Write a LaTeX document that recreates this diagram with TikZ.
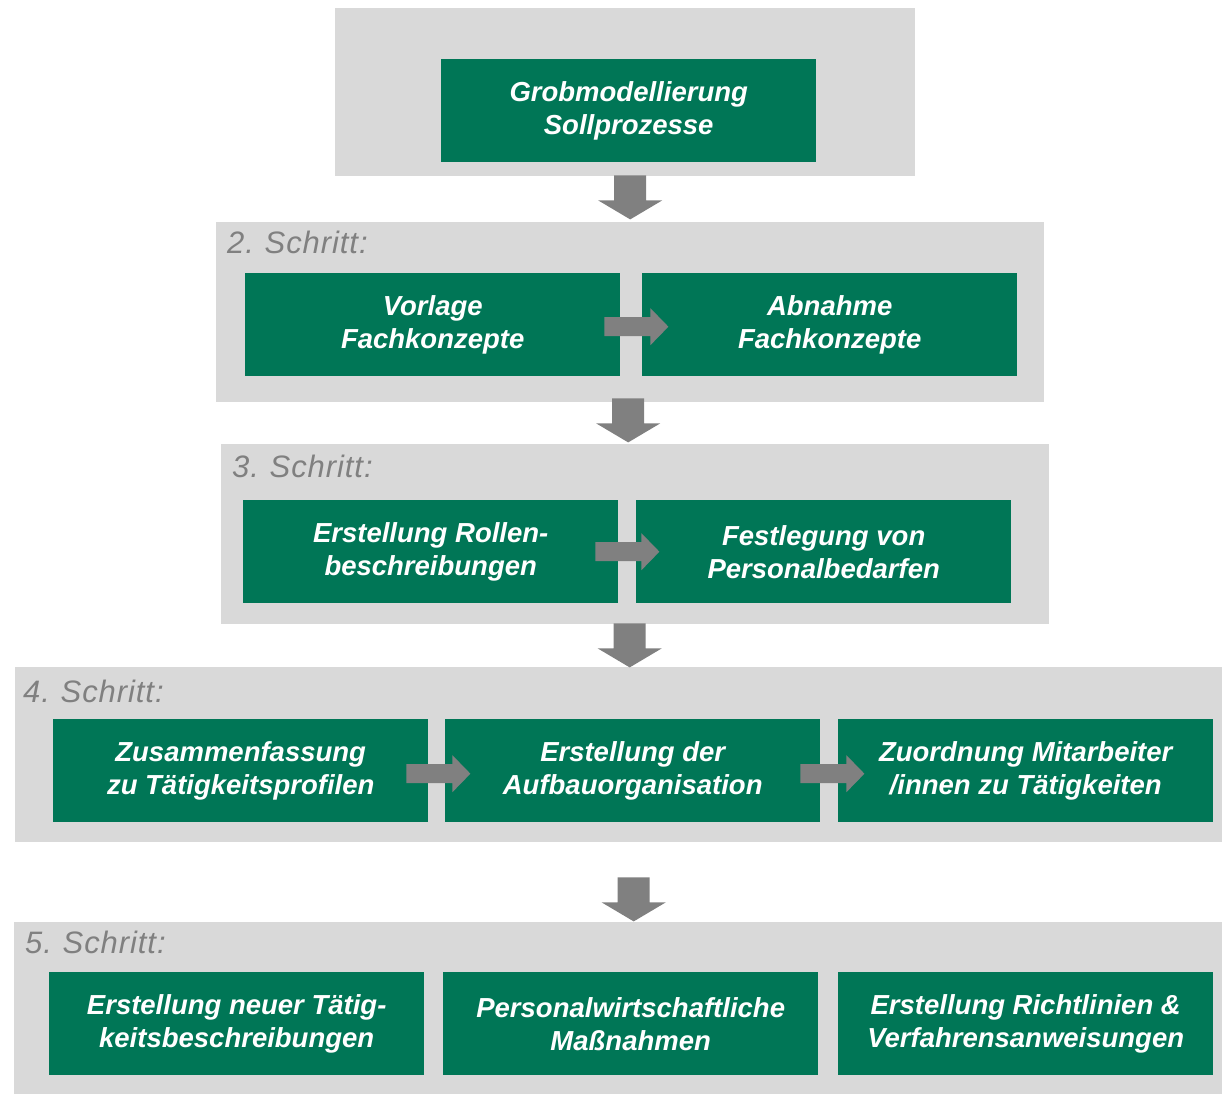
\documentclass[tikz,border=0pt]{standalone}
\usepackage{fontspec}
\setmainfont{Liberation Sans}
\usetikzlibrary{calc}
\definecolor{boxgreen}{RGB}{0,118,86}
\definecolor{panelgray}{RGB}{217,217,217}
\definecolor{arrowgray}{RGB}{128,128,128}
\definecolor{labelgray}{RGB}{128,128,128}
\tikzset{
  panel/.style={fill=panelgray, draw=none, inner sep=0pt, anchor=north west},
  stepbox/.style={fill=boxgreen, draw=none, text=white, inner sep=0pt,
    minimum width=375pt, minimum height=103pt, anchor=north west, align=center,
    font=\fontsize{27.5}{33}\selectfont\bfseries\itshape},
  steplabel/.style={anchor=base west, inner sep=0pt, text=labelgray,
    font=\fontsize{31}{34}\selectfont\itshape\addfontfeatures{LetterSpace=3}},
  varrow/.pic={\fill[arrowgray] (-16,0) -- (16,0) -- (16,25) -- (32,25) -- (0,44) -- (-32,25) -- (-16,25) -- cycle;},
  harrow/.pic={\fill[arrowgray] (0,-9.5) -- (46,-9.5) -- (46,-18.5) -- (64,0) -- (46,18.5) -- (46,9.5) -- (0,9.5) -- cycle;}
}
\begin{document}
\begin{tikzpicture}[x=1pt,y=-1pt]
\useasboundingbox[fill=white] (0,0) rectangle (1222,1094);
% panels
\node[panel, minimum width=580pt, minimum height=168pt] (p1) at (335,8) {};
\node[panel, minimum width=828pt, minimum height=180pt] (p2) at (216,222) {};
\node[panel, minimum width=828pt, minimum height=180pt] (p3) at (221,444) {};
\node[panel, minimum width=1207pt, minimum height=175pt] (p4) at (15,667) {};
\node[panel, minimum width=1208pt, minimum height=172pt] (p5) at (14,922) {};
% labels
\node[steplabel] (l2) at (227,253) {2.\hspace{-2pt} Schritt:};
\node[steplabel] (l3) at (232,477) {3.\hspace{-2pt} Schritt:};
\node[steplabel] (l4) at (23,702) {4.\hspace{-2pt} Schritt:};
\node[steplabel] (l5) at (25,953) {5.\hspace{-2pt} Schritt:};
% boxes
\node[stepbox] (b1) at (441,59) {Grobmodellierung\\Sollprozesse};
\node[stepbox] (s2a) at (245,273) {Vorlage\\Fachkonzepte};
\node[stepbox] (s2b) at (642,273) {Abnahme\\Fachkonzepte};
\node[stepbox] (s3a) at (243,500) {Erstellung Rollen-\\beschreibungen};
\node[stepbox] (s3b) at (636,500) {Festlegung von\\Personalbedarfen};
\node[stepbox] (s4a) at (53,719) {Zusammenfassung\\zu Tätigkeitsprofilen};
\node[stepbox] (s4b) at (445,719) {Erstellung der\\Aufbauorganisation};
\node[stepbox] (s4c) at (838,719) {Zuordnung Mitarbeiter\\/innen zu Tätigkeiten};
\node[stepbox] (s5a) at (49,972) {Erstellung neuer Tätig-\\keitsbeschreibungen};
\node[stepbox] (s5b) at (443,972) {Personalwirtschaftliche\\Maßnahmen};
\node[stepbox] (s5c) at (838,972) {Erstellung Richtlinien \&\\Verfahrensanweisungen};
% horizontal arrows
\pic at ($(s2a.east)+(-16,2)$) {harrow};
\pic at ($(s3a.east)+(-23,0)$) {harrow};
\pic at ($(s4a.east)+(-22,3)$) {harrow};
\pic at ($(s4b.east)+(-20,3)$) {harrow};
% vertical arrows
\pic at ($(p1.south)+(5,-1)$) {varrow};
\pic at ($(p2.south)+(-2,-4)$) {varrow};
\pic at ($(p3.south)+(-5.5,-1)$) {varrow};
\pic at ($(p4.south)+(15,35)$) {varrow};
\end{tikzpicture}
\end{document}
